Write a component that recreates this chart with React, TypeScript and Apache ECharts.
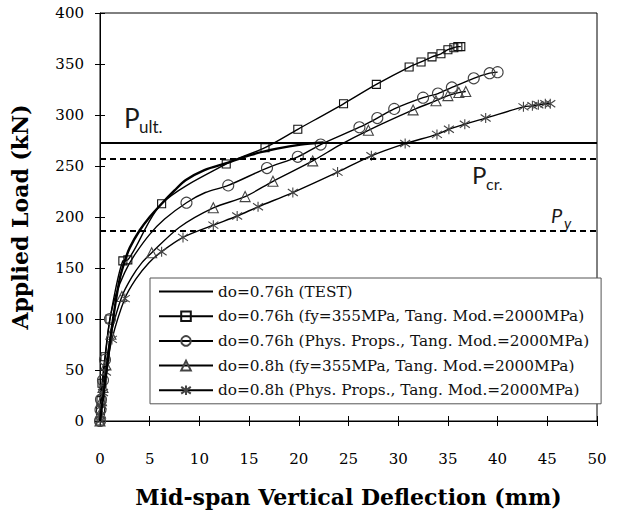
import React, { useEffect, useRef } from "react";
import * as echarts from "echarts";

// Series names (legend order)
const seriesNames = [
  "do=0.76h (TEST)",
  "do=0.76h (fy=355MPa, Tang. Mod.=2000MPa)",
  "do=0.76h (Phys. Props., Tang. Mod.=2000MPa)",
  "do=0.8h (fy=355MPa, Tang. Mod.=2000MPa)",
  "do=0.8h (Phys. Props., Tang. Mod.=2000MPa)",
];

// [deflection (mm), load (kN)]
const testCurve: [number, number][] = [
  [0, 0], [0.3, 22], [0.7, 52], [1.1, 85], [1.5, 112], [2.0, 140], [2.5, 157],
  [3.0, 170], [4.0, 187], [5.0, 200], [6.2, 213], [7.5, 226], [8.6, 236],
  [10.5, 246], [12.8, 253], [15.2, 261], [17.8, 267], [20.2, 271], [22.5, 273],
];

// [deflection, load, marker shown (1) or not (0)]
const sq076: [number, number, number][] = [
  [0, 0, 1], [0.05, 10, 1], [0.1, 20, 1], [0.2, 37, 1], [0.5, 63, 1], [1.0, 100, 1],
  [2.3, 157, 1], [2.8, 158, 1], [6.2, 213, 1], [12.7, 252, 1], [16.6, 268, 1],
  [19.9, 286, 1], [24.5, 311, 1], [27.8, 330, 1], [31.1, 347, 1], [32.3, 352, 1],
  [33.4, 357, 1], [34.3, 360, 1], [35.0, 364, 1], [35.6, 366, 1], [36.0, 367, 1],
  [36.3, 367, 1],
];

const circ076: [number, number, number][] = [
  [0, 0, 1], [0.05, 11, 1], [0.1, 21, 1], [0.3, 40, 1], [0.5, 60, 1], [1.0, 100, 1],
  [1.6, 124, 0], [2.5, 146, 0], [3.5, 163, 0], [5.0, 183, 0], [6.5, 198, 0],
  [8.7, 214, 1], [10.6, 224, 0], [12.9, 231, 1], [16.8, 248, 1], [19.9, 259, 1],
  [22.2, 271, 1], [26.1, 288, 1], [27.9, 297, 1], [29.6, 306, 1], [32.5, 317, 1],
  [34.0, 321, 1], [35.4, 327, 1], [37.6, 336, 1], [39.2, 341, 1], [40.0, 342, 1],
];

const tri08: [number, number, number][] = [
  [0, 0, 1], [0.05, 8, 1], [0.15, 20, 1], [0.3, 33, 1], [0.6, 55, 1], [1.1, 85, 1],
  [2.2, 122, 1], [3.2, 141, 0], [4.2, 155, 0], [5.2, 165, 1], [8.0, 190, 0],
  [11.4, 209, 1], [14.6, 220, 1], [17.4, 235, 1], [21.4, 255, 1], [24.2, 271, 0],
  [27.0, 285, 1], [31.5, 305, 1], [33.8, 314, 1], [35.0, 319, 1], [36.1, 322, 1],
  [36.8, 323, 1],
];

const star08: [number, number, number][] = [
  [0, 0, 1], [0.05, 6, 1], [0.15, 15, 1], [0.3, 28, 1], [0.6, 48, 1], [1.2, 80, 1],
  [2.5, 120, 1], [3.6, 139, 0], [4.9, 155, 0], [6.2, 166, 1], [8.35, 180, 1],
  [11.4, 192, 1], [13.8, 201, 1], [15.9, 210, 1], [19.4, 224, 1], [23.9, 244, 1],
  [27.3, 260, 1], [30.7, 272, 1], [33.9, 281, 1], [35.1, 286, 1], [36.7, 291, 1],
  [38.8, 297, 1], [42.6, 308, 1], [43.5, 309, 1], [44.1, 310, 1], [44.8, 311, 1],
  [45.3, 311, 1],
];

// Reference loads (kN)
const pUlt = 273;
const pCr = 257;
const pY = 187;

const STAR = "path://M5 0L5 10M1.5 1.5L8.5 8.5M8.5 1.5L1.5 8.5";

function toData(pts: [number, number, number][]) {
  return pts.map(([x, y, m]) =>
    m ? { value: [x, y] } : { value: [x, y], symbol: "none" }
  );
}

export default function App() {
  const ref = useRef<HTMLDivElement>(null);
  useEffect(() => {
    if (!ref.current) return;
    const chart = echarts.init(ref.current, null, { renderer: "svg" });
    const serif = "DejaVu Serif";
    const sans = "Lato";
    const labelColor = "#1a1a1a";
    const markerSeries = (
      name: string,
      pts: [number, number, number][],
      symbol: string,
      size: number,
      border: string
    ) => ({
      name,
      type: "line",
      smooth: 0.3,
      data: toData(pts),
      symbol,
      symbolSize: size,
      showAllSymbol: true,
      lineStyle: { color: "#000", width: 1.4 },
      itemStyle: { color: "rgba(0,0,0,0)", borderColor: border, borderWidth: 1.1 },
      emphasis: { disabled: true },
      z: 3,
    });
    chart.setOption({
      animation: false,
      backgroundColor: "#fff",
      grid: {
        left: 100,
        right: 20,
        top: 13,
        bottom: 102,
        show: true,
        borderColor: "#000",
        borderWidth: 1,
        backgroundColor: "transparent",
      },
      legend: {
        orient: "vertical",
        left: 150,
        top: 278,
        itemWidth: 54,
        itemHeight: 12,
        itemGap: 7.7,
        padding: [5, 12, 5, 8],
        borderColor: "#555",
        borderWidth: 1,
        backgroundColor: "#fff",
        data: seriesNames,
        textStyle: { fontFamily: serif, fontSize: 15.3, color: "#111", lineHeight: 17 },
      },
      xAxis: [
        {
          type: "value",
          min: 0,
          max: 50,
          interval: 5,
          position: "bottom",
          name: "Mid-span Vertical Deflection (mm)",
          nameLocation: "middle",
          nameGap: 65,
          nameTextStyle: { fontFamily: serif, fontSize: 22, fontWeight: "bold", color: "#000" },
          axisLine: { show: true, lineStyle: { color: "#000", width: 1 } },
          axisTick: { show: true, inside: false, length: 5, lineStyle: { color: "#000" } },
          axisLabel: { margin: 30, fontFamily: serif, fontSize: 15, color: "#000" },
          splitLine: { show: false },
        },
        {
          type: "value",
          min: 0,
          max: 50,
          interval: 5,
          position: "bottom",
          axisLine: { show: false },
          axisTick: { show: true, inside: true, length: 5, lineStyle: { color: "#000" } },
          axisLabel: { show: false },
          splitLine: { show: false },
        },
      ],
      yAxis: [
        {
          type: "value",
          min: 0,
          max: 400,
          interval: 50,
          position: "left",
          name: "Applied Load (kN)",
          nameLocation: "middle",
          nameGap: 69,
          nameTextStyle: { fontFamily: serif, fontSize: 22, fontWeight: "bold", color: "#000" },
          axisLine: { show: true, lineStyle: { color: "#000", width: 1 } },
          axisTick: { show: true, inside: false, length: 5, lineStyle: { color: "#000" } },
          axisLabel: { margin: 16, fontFamily: serif, fontSize: 15, color: "#000" },
          splitLine: { show: false },
        },
        {
          type: "value",
          min: 0,
          max: 400,
          interval: 50,
          position: "left",
          axisLine: { show: false },
          axisTick: { show: true, inside: true, length: 5, lineStyle: { color: "#000" } },
          axisLabel: { show: false },
          splitLine: { show: false },
        },
      ],
      series: [
        {
          name: seriesNames[0],
          type: "line",
          smooth: 0.3,
          data: testCurve,
          symbol: "none",
          showSymbol: false,
          lineStyle: { color: "#000", width: 2.4 },
          itemStyle: { color: "rgba(0,0,0,0)", borderColor: "rgba(0,0,0,0)", borderWidth: 0 },
          emphasis: { disabled: true },
          z: 4,
          markLine: {
            silent: true,
            symbol: ["none", "none"],
            label: { show: false },
            emphasis: { disabled: true },
            data: [
              { yAxis: pUlt, lineStyle: { color: "#000", width: 2.2, type: "solid" } },
              { yAxis: pCr, lineStyle: { color: "#000", width: 1.8, type: [6, 4] } },
              { yAxis: pY, lineStyle: { color: "#000", width: 1.8, type: [6, 4] } },
            ],
          },
        },
        markerSeries(seriesNames[1], sq076, "rect", 8, "#111"),
        markerSeries(seriesNames[2], circ076, "circle", 11, "#444"),
        markerSeries(seriesNames[3], tri08, "triangle", 10, "#444"),
        markerSeries(seriesNames[4], star08, STAR, 10, "#444"),
      ],
      graphic: [
        { type: "text", x: 124, y: 118, style: { text: "P", font: `26px ${sans}`, fill: labelColor, verticalAlign: "middle" } },
        { type: "text", x: 139, y: 126, style: { text: "ult.", font: `17px ${sans}`, fill: labelColor, verticalAlign: "middle" } },
        { type: "text", x: 472, y: 174, style: { text: "P", font: `24px ${sans}`, fill: labelColor, verticalAlign: "middle" } },
        { type: "text", x: 486, y: 183, style: { text: "cr.", font: `16px ${sans}`, fill: labelColor, verticalAlign: "middle" } },
        { type: "text", x: 551, y: 215, style: { text: "P", font: `italic 20px ${sans}`, fill: labelColor, verticalAlign: "middle" } },
        { type: "text", x: 564, y: 223, style: { text: "y", font: `italic 15px ${sans}`, fill: labelColor, verticalAlign: "middle" } },
      ],
    });
    return () => chart.dispose();
  }, []);
  return <div ref={ref} style={{ width: 617, height: 523, position: "absolute", left: 0, top: 0 }} />;
}
